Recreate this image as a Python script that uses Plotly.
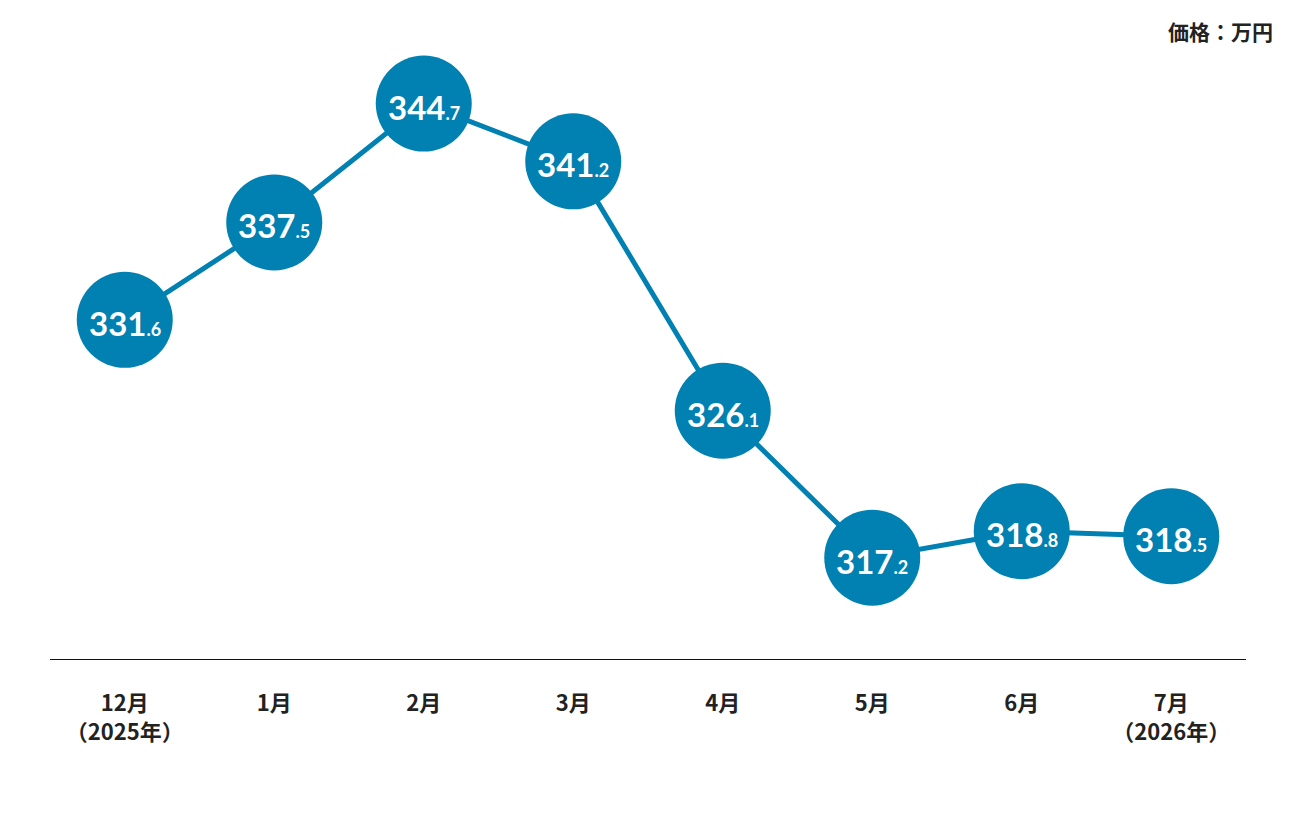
import plotly.graph_objects as go

tsuki = ["12月<br>（2025年）", "1月", "2月", "3月", "4月", "5月", "6月", "7月<br>（2026年）"]
kakaku = [331.6, 337.5, 344.7, 341.2, 326.1, 317.2, 318.8, 318.5]

ao = "#0180b2"

def label(v):
    s = f"{v:.1f}"
    seisu, shosu = s.split(".")
    return f"{seisu}<span style='font-size:18px'>.{shosu}</span>"

x = list(range(len(kakaku)))

fig = go.Figure()
fig.add_scatter(
    x=x, y=kakaku,
    mode="lines+markers",
    line=dict(color=ao, width=5),
    marker=dict(size=96, color=ao, line=dict(width=0)),
    cliponaxis=False,
    hoverinfo="skip",
)

# 円の中の数値
for xi, v in zip(x, kakaku):
    fig.add_annotation(
        x=xi, y=v, text=label(v), showarrow=False, yshift=-3,
        font=dict(family="Lato", size=33, color="white", weight="bold"),
    )

fig.add_annotation(
    text="価格：万円", xref="paper", yref="paper", x=1.024, y=1.0145,
    xanchor="right", yanchor="middle", showarrow=False,
    font=dict(family="Noto Sans CJK JP", size=21, color="#222", weight="bold"),
)

fig.update_xaxes(
    range=[-0.5, 7.5], tickvals=x, ticktext=tsuki,
    showgrid=False, zeroline=False, showline=False, ticks="",
    ticklabelstandoff=28,
    tickfont=dict(family="Noto Sans CJK JP", size=22, color="#222", weight="bold"),
)
fig.update_yaxes(
    range=[311.0, 348.55], showgrid=False, zeroline=False,
    showticklabels=False, showline=False,
)
# baseline
fig.add_shape(type="line", xref="paper", yref="y", x0=0, x1=1, y0=311.0, y1=311.0,
              line=dict(color="#111", width=2))

fig.update_layout(
    width=1296, height=816,
    margin=dict(l=42, r=58, t=32, b=164),
    plot_bgcolor="white", paper_bgcolor="white",
    showlegend=False,
)

fig.write_html("out.html")
